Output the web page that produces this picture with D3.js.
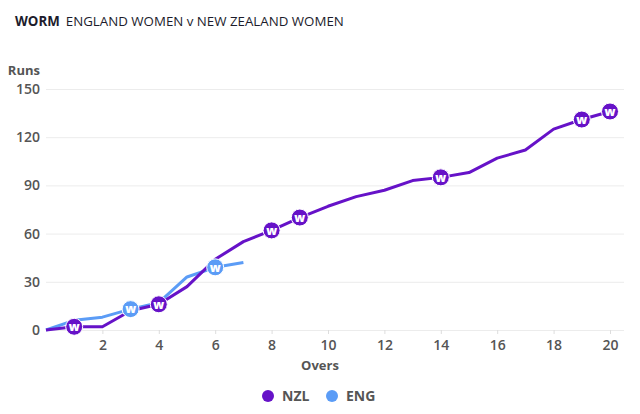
<!DOCTYPE html>
<html>
<head>
<meta charset="utf-8">
<script src="https://cdn.jsdelivr.net/npm/d3@7"></script>
<style>
  body { margin: 0; background: #fff; font-family: "Open Sans", sans-serif; }
  .grid line { stroke: #ececec; }
  .tick text { fill: #555; font-weight: 600; }
</style>
</head>
<body>
<script>
// worm chart data
var overs = d3.range(0, 21);
var nzlRuns = [0, 2, 2, 12, 16, 27, 44, 55, 62, 70, 77, 83, 87, 93, 95, 98, 107, 112, 125, 131, 136];
var engOvers = [0, 1, 2, 3, 4, 5, 6, 7];
var engRuns = [0, 6, 8, 13, 17, 33, 39, 42];
var nzlWickets = [1, 4, 8, 9, 14, 19, 20];
var engWickets = [3, 6];
var yTicks = [0, 30, 60, 90, 120, 150];
var xTicks = [2, 4, 6, 8, 10, 12, 14, 16, 18, 20];

var teams = [
  {name: 'NZL', color: '#6612c8'},
  {name: 'ENG', color: '#5b9cf6'}
];

var svg = d3.select('body').append('svg')
  .attr('width', 640)
  .attr('height', 414);

// title
var title = svg.append('text')
  .attr('x', 15)
  .attr('y', 26)
  .style('font-size', '13.3px')
  .style('fill', '#1c1c2c');
title.append('tspan').style('font-weight', 700).text('WORM');
title.append('tspan').attr('dx', 6).style('font-weight', 400).text('ENGLAND WOMEN v NEW ZEALAND WOMEN');

var x = d3.scaleLinear().domain([0, 20]).range([46, 610]);
var y = d3.scaleLinear().domain([0, 150]).range([330, 89]);

// gridlines
svg.append('g')
  .attr('class', 'grid')
  .attr('transform', 'translate(46,0)')
  .call(d3.axisLeft(y).tickValues(yTicks).tickSize(-578).tickFormat(''))
  .call(function(g) { g.select('.domain').remove(); });

// y axis labels
svg.append('g')
  .attr('transform', 'translate(46,0)')
  .call(d3.axisLeft(y).tickValues(yTicks).tickSize(0).tickPadding(6))
  .call(function(g) {
    g.select('.domain').remove();
    g.selectAll('text').style('font-size', '14px').style('font-family', '"Open Sans", sans-serif');
  });

svg.append('text')
  .attr('x', 40)
  .attr('y', 75)
  .attr('text-anchor', 'end')
  .style('font-size', '13px')
  .style('font-weight', 700)
  .style('fill', '#555')
  .text('Runs');

// x axis
svg.append('g')
  .attr('transform', 'translate(0,330)')
  .call(d3.axisBottom(x).tickValues(xTicks).tickSize(4).tickPadding(6))
  .call(function(g) {
    g.select('.domain').remove();
    g.selectAll('line').attr('stroke', '#ddd');
    g.selectAll('text').style('font-size', '14px').style('font-family', '"Open Sans", sans-serif');
  });

svg.append('text')
  .attr('x', 320)
  .attr('y', 370)
  .attr('text-anchor', 'middle')
  .style('font-size', '13px')
  .style('font-weight', 700)
  .style('fill', '#555')
  .text('Overs');

var line = d3.line()
  .x(function(d) { return x(d[0]); })
  .y(function(d) { return y(d[1]); });

var engPts = engOvers.map(function(o, i) { return [o, engRuns[i]]; });
var nzlPts = overs.map(function(o, i) { return [o, nzlRuns[i]]; });

svg.append('path')
  .datum(engPts)
  .attr('d', line)
  .attr('fill', 'none')
  .attr('stroke', teams[1].color)
  .attr('stroke-width', 3)
  .attr('stroke-linejoin', 'round');

svg.append('path')
  .datum(nzlPts)
  .attr('d', line)
  .attr('fill', 'none')
  .attr('stroke', teams[0].color)
  .attr('stroke-width', 3)
  .attr('stroke-linejoin', 'round');

var drawWickets = function(list, runs, xs, color) {
  var g = svg.append('g');
  var w = g.selectAll('.wkt')
    .data(list)
    .enter()
    .append('g')
    .attr('transform', function(o) {
      var i = xs.indexOf(o);
      return 'translate(' + x(o) + ',' + y(runs[i]) + ')';
    });
  w.append('circle')
    .attr('r', 8.5)
    .attr('fill', color)
    .attr('stroke', '#fff')
    .attr('stroke-width', 1);
  w.append('text')
    .attr('text-anchor', 'middle')
    .attr('dy', '0.36em')
    .style('font-size', '12px')
    .style('font-weight', 800)
    .style('fill', '#fff')
    .text('w');
};

drawWickets(nzlWickets, nzlRuns, overs, teams[0].color);
drawWickets(engWickets, engRuns, engOvers, teams[1].color);

// legend
var legX = [268, 332];
var leg = svg.selectAll('.leg')
  .data(teams)
  .enter()
  .append('g')
  .attr('transform', function(d, i) { return 'translate(' + legX[i] + ',396)'; });
leg.append('circle').attr('r', 6).attr('fill', function(d) { return d.color; });
leg.append('text')
  .attr('x', 14)
  .attr('dy', '0.36em')
  .style('font-size', '14px')
  .style('font-weight', 700)
  .style('fill', '#555')
  .text(function(d) { return d.name; });
</script>
</body>
</html>
